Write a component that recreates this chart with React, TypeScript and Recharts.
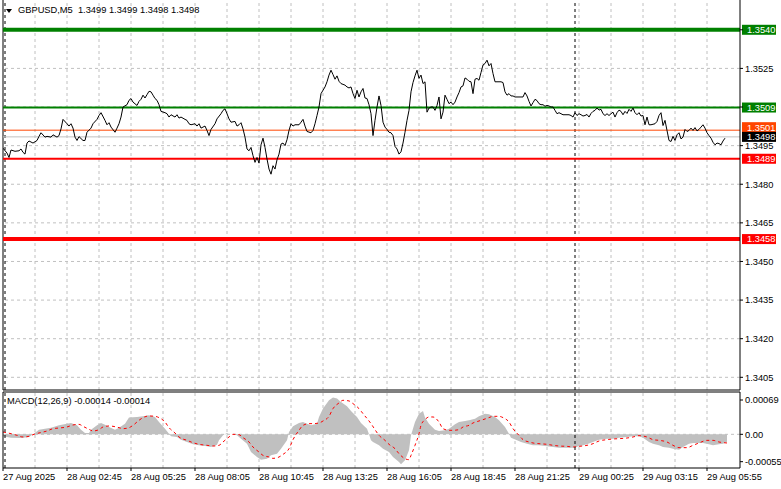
import React from "react";
import {
  ComposedChart,
  Line,
  Area,
  XAxis,
  YAxis,
  ReferenceLine,
} from "recharts";

const FONT = "'Liberation Sans', Arial, sans-serif";
const FONT_SIZE = 9.3;

// x = index of the M5 bar counted from the left edge of the chart
const timeTickBars = [0, 32, 64, 96, 128, 160, 192, 224, 256, 288, 320, 352];
const timeLabels = [
  "27 Aug 2025",
  "28 Aug 02:45",
  "28 Aug 05:25",
  "28 Aug 08:05",
  "28 Aug 10:45",
  "28 Aug 13:25",
  "28 Aug 16:05",
  "28 Aug 18:45",
  "28 Aug 21:25",
  "29 Aug 00:25",
  "29 Aug 03:15",
  "29 Aug 05:55",
];
const gridBars = [16, 32, 48, 64, 80, 96, 112, 128, 144, 160, 176, 192, 208, 224, 240, 256, 272, 288, 304, 320, 336, 352];
const separatorBars = [1, 286];

const priceTicks = [1.3405, 1.342, 1.3435, 1.345, 1.3465, 1.348, 1.3495, 1.351, 1.3525, 1.354];
const coveredPriceTicks = [1.351, 1.354];

// horizontal levels drawn on the chart (labels show them truncated to 4 digits)
const supportResistance = [1.354, 1.35098, 1.3501, 1.34899, 1.34587];
const bidPrice = 1.34984;

const macdTicks = [-0.00055, 0, 0.00069];

// [bar, close]
const closes: [number, number][] = [
  [0, 1.3494], [2, 1.34921], [3, 1.34904], [4, 1.34933], [6, 1.34928], [8, 1.3493], [9, 1.34937],
  [10, 1.34924], [11, 1.34917], [12, 1.3496], [13, 1.34968], [15, 1.3496], [17, 1.3497], [18, 1.34986],
  [19, 1.35], [21, 1.34983], [22, 1.34986], [24, 1.34983], [25, 1.34992], [27, 1.34983], [28, 1.34989],
  [29, 1.35015], [30, 1.35052], [32, 1.35035], [33, 1.35026], [34, 1.35035], [35, 1.35018], [36, 1.34983],
  [37, 1.3497], [38, 1.34985], [40, 1.3497], [41, 1.3497], [42, 1.35002], [44, 1.35018], [45, 1.35035],
  [47, 1.35052], [48, 1.35067], [49, 1.35078], [51, 1.35048], [52, 1.35031], [53, 1.35039], [54, 1.35022],
  [56, 1.35002], [57, 1.35018], [58, 1.35035], [59, 1.35061], [60, 1.351], [62, 1.35109], [63, 1.35126],
  [64, 1.35133], [65, 1.35119], [67, 1.35106], [68, 1.35122], [69, 1.3513], [70, 1.35146], [71, 1.35135],
  [72, 1.35148], [73, 1.35161], [74, 1.35159], [75, 1.35146], [76, 1.35133], [77, 1.35126], [78, 1.35109],
  [79, 1.35083], [81, 1.35078], [82, 1.35074], [83, 1.35061], [84, 1.3507], [86, 1.35061], [87, 1.3507],
  [88, 1.35057], [89, 1.35061], [91, 1.35052], [92, 1.35048], [93, 1.35035], [94, 1.35031], [96, 1.35035],
  [97, 1.35026], [98, 1.35035], [99, 1.35018], [101, 1.35026], [102, 1.35009], [103, 1.34989], [104, 1.35013],
  [106, 1.35035], [107, 1.35054], [109, 1.35074], [110, 1.35087], [111, 1.35093], [112, 1.35074], [113, 1.35054],
  [114, 1.35041], [116, 1.35044], [117, 1.35026], [118, 1.35031], [119, 1.35039], [120, 1.35015], [121, 1.34983],
  [122, 1.34937], [123, 1.3493], [124, 1.34943], [125, 1.34911], [126, 1.34885], [127, 1.34904], [128, 1.34882],
  [129, 1.34953], [130, 1.34979], [131, 1.34943], [132, 1.34898], [133, 1.34859], [134, 1.34839], [135, 1.34872],
  [136, 1.34859], [137, 1.34895], [138, 1.34917], [139, 1.34956], [140, 1.3496], [141, 1.3495], [142, 1.34973],
  [143, 1.35009], [144, 1.35035], [145, 1.35026], [146, 1.35031], [148, 1.35031], [149, 1.35041], [150, 1.35052],
  [151, 1.35026], [152, 1.35005], [154, 1.35], [155, 1.35009], [156, 1.35035], [157, 1.35067], [158, 1.351],
  [159, 1.35152], [161, 1.35178], [162, 1.35198], [163, 1.35224], [164, 1.35243], [165, 1.35226], [166, 1.35208],
  [167, 1.35221], [168, 1.352], [169, 1.35191], [171, 1.35185], [172, 1.35178], [173, 1.35174], [174, 1.35178],
  [175, 1.35152], [176, 1.35133], [177, 1.35165], [178, 1.35139], [179, 1.35159], [180, 1.35172], [181, 1.35135],
  [182, 1.35133], [183, 1.35109], [184, 1.35074], [185, 1.34989], [186, 1.35048], [187, 1.351], [188, 1.35143],
  [189, 1.35106], [190, 1.35041], [191, 1.35022], [192, 1.35013], [193, 1.35002], [194, 1.35], [195, 1.34989],
  [196, 1.34947], [197, 1.34937], [198, 1.34917], [199, 1.34926], [200, 1.3496], [201, 1.35002], [202, 1.35048],
  [203, 1.35087], [204, 1.35159], [205, 1.35195], [206, 1.35221], [207, 1.35243], [208, 1.35211], [209, 1.35224],
  [210, 1.35191], [211, 1.35198], [212, 1.3508], [213, 1.35096], [214, 1.351], [215, 1.351], [216, 1.35087],
  [217, 1.35106], [218, 1.35139], [219, 1.35054], [220, 1.3508], [221, 1.35146], [222, 1.3513], [223, 1.35113],
  [224, 1.35119], [225, 1.35109], [226, 1.35119], [227, 1.35139], [228, 1.35156], [229, 1.35178], [230, 1.35182],
  [231, 1.35213], [232, 1.35208], [233, 1.352], [234, 1.35198], [235, 1.35152], [236, 1.35208], [237, 1.35211],
  [238, 1.35204], [239, 1.35234], [240, 1.35263], [241, 1.35269], [242, 1.35282], [243, 1.3526], [244, 1.35269],
  [245, 1.3523], [246, 1.35198], [247, 1.35198], [248, 1.35198], [249, 1.35198], [250, 1.35195], [251, 1.35159],
  [252, 1.35146], [253, 1.35152], [254, 1.35143], [255, 1.35143], [256, 1.35139], [257, 1.35139], [258, 1.35139],
  [259, 1.35139], [260, 1.35139], [261, 1.35156], [262, 1.35143], [263, 1.35122], [264, 1.35104], [265, 1.35117],
  [266, 1.3513], [267, 1.35125], [268, 1.35113], [269, 1.35109], [270, 1.35109], [271, 1.35103], [272, 1.35106],
  [273, 1.35104], [274, 1.351], [275, 1.351], [276, 1.35087], [277, 1.35074], [278, 1.35078], [279, 1.35074],
  [280, 1.3507], [281, 1.3507], [282, 1.3507], [283, 1.3507], [284, 1.35067], [285, 1.35061], [286, 1.35078],
  [287, 1.35067], [288, 1.35074], [289, 1.3507], [290, 1.35065], [291, 1.35067], [292, 1.35071], [293, 1.35061],
  [294, 1.35075], [295, 1.35083], [296, 1.35087], [297, 1.35096], [298, 1.35088], [299, 1.35091], [300, 1.35074],
  [301, 1.35067], [302, 1.35074], [303, 1.35067], [304, 1.35074], [305, 1.3508], [306, 1.35061], [307, 1.35078],
  [308, 1.35088], [309, 1.35083], [310, 1.3507], [311, 1.35083], [312, 1.35075], [313, 1.35091], [314, 1.35083],
  [315, 1.35096], [316, 1.35078], [317, 1.3507], [318, 1.35078], [319, 1.35065], [320, 1.35067], [321, 1.35031],
  [322, 1.35061], [323, 1.35031], [324, 1.35031], [325, 1.35033], [326, 1.35035], [327, 1.35044], [328, 1.35067],
  [329, 1.35078], [330, 1.35028], [331, 1.35048], [332, 1.35009], [333, 1.3497], [334, 1.34966], [335, 1.34986],
  [336, 1.3497], [337, 1.34992], [338, 1.35], [339, 1.34976], [340, 1.34983], [341, 1.35013], [342, 1.35005],
  [343, 1.35009], [344, 1.35018], [345, 1.35009], [346, 1.3502], [347, 1.35007], [348, 1.35013], [349, 1.35022],
  [350, 1.35031], [351, 1.35018], [352, 1.35], [353, 1.34989], [354, 1.34979], [355, 1.34963], [356, 1.34953],
  [357, 1.3496], [358, 1.34958], [359, 1.34953], [360, 1.34968], [361, 1.34979],
];

// [bar, MACD main] (histogram)
const macdMain: [number, number][] = [
  [0, -4.0e-5], [4, -6.7e-5], [9, -7.4e-5], [13, -5.4e-5], [15, 0], [18, 9.4e-5], [24, 13.4e-5],
  [28, 18.1e-5], [32, 21.5e-5], [34, 22.8e-5], [37, 18.1e-5], [39, 9.4e-5], [41, 2.7e-5], [43, 2.7e-5],
  [44, 9.4e-5], [47, 18.1e-5], [49, 22.8e-5], [51, 19.5e-5], [53, 14.8e-5], [56, 9.4e-5], [58, 13.4e-5],
  [61, 21.5e-5], [63, 33.6e-5], [67, 34.9e-5], [70, 36.2e-5], [73, 38.2e-5], [76, 34.9e-5], [78, 24.8e-5],
  [81, 11.4e-5], [83, 1.3e-5], [84, -4.0e-5], [87, -5.4e-5], [89, -10.7e-5], [92, -15.4e-5], [95, -20.1e-5],
  [98, -22.1e-5], [102, -24.2e-5], [104, -25.5e-5], [107, -20.8e-5], [108, -12.1e-5], [110, -2.0e-5],
  [112, 2.7e-5], [113, 0], [115, 0], [117, -2.0e-5], [119, -8.7e-5], [122, -18.8e-5], [124, -35.6e-5],
  [127, -45.6e-5], [129, -51.0e-5], [132, -49.0e-5], [134, -42.3e-5], [137, -38.9e-5], [139, -28.9e-5],
  [142, -12.1e-5], [143, 4.7e-5], [145, 16.1e-5], [148, 22.8e-5], [150, 24.8e-5], [152, 21.5e-5],
  [154, 18.1e-5], [157, 21.5e-5], [158, 34.9e-5], [160, 51.7e-5], [163, 68.4e-5], [165, 73.8e-5],
  [167, 71.8e-5], [169, 65.1e-5], [172, 56.4e-5], [174, 47.0e-5], [177, 34.9e-5], [179, 22.8e-5],
  [182, 11.4e-5], [183, 0], [184, -12.1e-5], [185, -15.4e-5], [188, -22.1e-5], [190, -28.9e-5],
  [193, -35.6e-5], [195, -45.6e-5], [198, -55.7e-5], [199, -60.4e-5], [201, -52.3e-5], [203, -32.2e-5],
  [204, -2.0e-5], [206, 24.8e-5], [208, 41.6e-5], [210, 47.0e-5], [211, 33.6e-5], [213, 21.5e-5],
  [216, 9.4e-5], [218, 6.7e-5], [221, 8.1e-5], [223, 11.4e-5], [226, 20.1e-5], [228, 24.8e-5],
  [231, 26.8e-5], [233, 28.2e-5], [236, 31.5e-5], [238, 36.2e-5], [241, 41.6e-5], [243, 40.3e-5],
  [246, 34.9e-5], [248, 28.2e-5], [251, 14.8e-5], [253, 1.3e-5], [254, -6.7e-5], [257, -12.1e-5],
  [259, -15.4e-5], [262, -18.8e-5], [265, -22.1e-5], [268, -22.1e-5], [272, -24.2e-5], [275, -25.5e-5],
  [278, -26.8e-5], [282, -26.8e-5], [285, -26.8e-5], [288, -24.2e-5], [292, -20.1e-5], [295, -15.4e-5],
  [298, -10.7e-5], [302, -8.7e-5], [305, -8.7e-5], [308, -6.7e-5], [312, -5.4e-5], [315, -4.0e-5],
  [318, -4.0e-5], [320, -6.7e-5], [323, -15.4e-5], [325, -18.8e-5], [328, -22.1e-5], [330, -25.5e-5],
  [333, -26.8e-5], [335, -28.9e-5], [338, -30.9e-5], [340, -25.5e-5], [343, -18.8e-5], [345, -17.4e-5],
  [348, -17.4e-5], [350, -17.4e-5], [353, -20.1e-5], [355, -22.1e-5], [358, -20.1e-5], [360, -18.8e-5],
  [362, -15.0e-5],
];

// [bar, MACD signal]
const macdSignal: [number, number][] = [
  [0, 4.7e-5], [4, 1.3e-5], [7, -2.0e-5], [10, -5.4e-5], [13, -4.0e-5], [15, -0.7e-5], [18, 2.7e-5],
  [22, 6.7e-5], [25, 11.4e-5], [28, 12.7e-5], [32, 14.8e-5], [35, 18.8e-5], [38, 20.1e-5], [40, 16.1e-5],
  [43, 10.1e-5], [45, 6.7e-5], [48, 9.4e-5], [50, 14.8e-5], [53, 16.8e-5], [55, 16.1e-5], [58, 13.4e-5],
  [60, 11.4e-5], [63, 13.4e-5], [65, 18.1e-5], [68, 28.2e-5], [70, 33.6e-5], [73, 36.9e-5], [76, 36.2e-5],
  [78, 33.6e-5], [81, 24.8e-5], [83, 13.4e-5], [86, 2.7e-5], [88, -5.4e-5], [92, -12.1e-5], [95, -16.8e-5],
  [98, -20.1e-5], [102, -22.1e-5], [105, -23.5e-5], [108, -22.1e-5], [110, -15.4e-5], [113, -5.4e-5],
  [115, 0], [118, -0.7e-5], [120, -6.7e-5], [123, -15.4e-5], [125, -25.5e-5], [128, -35.6e-5],
  [130, -42.3e-5], [133, -45.6e-5], [135, -48.3e-5], [138, -45.6e-5], [140, -40.3e-5], [143, -28.9e-5],
  [145, -10.7e-5], [148, 8.1e-5], [150, 18.1e-5], [153, 21.5e-5], [155, 21.5e-5], [158, 22.8e-5],
  [160, 26.8e-5], [163, 36.2e-5], [165, 51.7e-5], [168, 63.1e-5], [170, 68.4e-5], [173, 67.1e-5],
  [175, 61.7e-5], [178, 51.7e-5], [180, 41.6e-5], [184, 21.5e-5], [186, 9.4e-5], [188, -2.0e-5],
  [191, -12.1e-5], [193, -20.1e-5], [196, -28.9e-5], [198, -38.9e-5], [201, -49.0e-5], [203, -51.0e-5],
  [204, -42.3e-5], [206, -22.1e-5], [208, 1.3e-5], [209, 18.1e-5], [211, 29.5e-5], [213, 34.9e-5],
  [215, 34.9e-5], [218, 24.8e-5], [220, 11.4e-5], [223, 8.1e-5], [225, 8.1e-5], [228, 9.4e-5],
  [230, 14.8e-5], [233, 18.1e-5], [235, 22.8e-5], [238, 26.8e-5], [240, 29.5e-5], [243, 33.6e-5],
  [245, 36.2e-5], [248, 36.2e-5], [250, 33.6e-5], [253, 24.8e-5], [255, 11.4e-5], [258, -2.0e-5],
  [260, -10.7e-5], [263, -15.4e-5], [265, -17.4e-5], [268, -18.8e-5], [272, -20.1e-5], [275, -22.1e-5],
  [278, -23.5e-5], [282, -24.2e-5], [285, -25.5e-5], [288, -24.2e-5], [292, -22.1e-5], [295, -18.8e-5],
  [298, -13.4e-5], [302, -10.7e-5], [305, -9.4e-5], [308, -8.7e-5], [312, -7.4e-5], [315, -5.4e-5],
  [318, -2.7e-5], [322, -5.4e-5], [325, -10.7e-5], [328, -12.1e-5], [332, -15.4e-5], [335, -22.1e-5],
  [338, -26.8e-5], [342, -26.8e-5], [345, -22.1e-5], [348, -17.4e-5], [352, -12.1e-5], [355, -12.1e-5],
  [358, -15.4e-5], [362, -17.4e-5],
];

const BAR_DOMAIN: [number, number] = [0, 368.5];
const PRICE_DOMAIN: [number, number] = [1.340007, 1.355157];
const MACD_DOMAIN: [number, number] = [-0.000677, 0.000851];

const GRID = "#c0c0c0";
const LEVEL_STYLE = [
  { color: "#008000", width: 4, shift: 0 },
  { color: "#008000", width: 2, shift: 0 },
  { color: "#ff4500", width: 1, shift: -3 },
  { color: "#ff0000", width: 2, shift: 0 },
  { color: "#ff0000", width: 4, shift: 0 },
];

const priceData = closes.map(([bar, close]) => ({ bar, close }));

const macdData = (() => {
  const rows = new Map<number, { bar: number; main?: number; signal?: number }>();
  macdMain.forEach(([bar, v]) => rows.set(bar, { ...(rows.get(bar) ?? { bar }), main: v }));
  macdSignal.forEach(([bar, v]) => rows.set(bar, { ...(rows.get(bar) ?? { bar }), signal: v }));
  return [...rows.values()].sort((a, b) => a.bar - b.bar);
})();

function truncated(v: number) {
  return (Math.floor(v * 10000 + 1e-6) / 10000).toFixed(4);
}

// eslint-disable-next-line @typescript-eslint/no-explicit-any
function PriceTag({ viewBox, text, fill, shift = 0 }: any) {
  if (!viewBox) return null;
  const x = viewBox.x + viewBox.width + 2;
  const y = viewBox.y + shift;
  return (
    <g>
      <rect x={x} y={y - 5} width={34} height={10} fill={fill} />
      <text x={x + 5} y={y} dy="0.36em" fill="#fff" fontSize={FONT_SIZE} fontFamily={FONT}>
        {text}
      </text>
    </g>
  );
}

// eslint-disable-next-line @typescript-eslint/no-explicit-any
function TimeTick({ x, y, payload }: any) {
  const idx = timeTickBars.indexOf(payload.value);
  return (
    <text x={x} y={y} dy="0.71em" textAnchor="start" fill="#000" fontSize={FONT_SIZE} fontFamily={FONT}>
      {timeLabels[idx] ?? ""}
    </text>
  );
}

const axisTick = { fill: "#000", fontSize: FONT_SIZE, fontFamily: FONT };

export default function App() {
  return (
    <div
      style={{
        position: "absolute",
        left: 0,
        top: 0,
        width: 781,
        height: 489,
        background: "#fff",
        fontFamily: FONT,
        fontSize: FONT_SIZE,
        color: "#000",
        overflow: "hidden",
      }}
    >
      <div style={{ position: "absolute", left: 0, top: 0 }}>
        <ComposedChart width={781} height={391} data={priceData} margin={{ top: 0, right: 0, bottom: 1, left: 3 }}>
          <XAxis dataKey="bar" type="number" domain={BAR_DOMAIN} allowDataOverflow hide />
          <YAxis
            orientation="right"
            width={41}
            type="number"
            domain={PRICE_DOMAIN}
            allowDataOverflow
            ticks={priceTicks}
            interval={0}
            tickFormatter={(v: number) => (coveredPriceTicks.includes(v) ? "" : v.toFixed(4))}
            tick={axisTick}
            tickSize={3}
            tickMargin={2}
            axisLine={{ stroke: "#000" }}
            tickLine={{ stroke: "#000" }}
          />
          {priceTicks.map((p) => (
            <ReferenceLine key={`h${p}`} y={p} stroke={GRID} strokeDasharray="3 3" />
          ))}
          {gridBars.map((b) => (
            <ReferenceLine key={`v${b}`} x={b} stroke={GRID} strokeDasharray="3 3" />
          ))}
          {separatorBars.map((b) => (
            <ReferenceLine key={`s${b}`} x={b} stroke="#000" strokeDasharray="3 3" />
          ))}
          <ReferenceLine x={0} stroke="#000" />
          <ReferenceLine y={PRICE_DOMAIN[0]} stroke="#000" />
          {supportResistance.map((p, i) => (
            <ReferenceLine
              key={`l${p}`}
              y={p}
              stroke={LEVEL_STYLE[i].color}
              strokeWidth={LEVEL_STYLE[i].width}
              label={<PriceTag text={truncated(p)} fill={LEVEL_STYLE[i].color} shift={LEVEL_STYLE[i].shift} />}
            />
          ))}
          <ReferenceLine
            y={bidPrice}
            stroke={GRID}
            label={<PriceTag text={truncated(bidPrice)} fill="#000" />}
          />
          <Line
            dataKey="close"
            type="linear"
            stroke="#000"
            strokeWidth={1}
            dot={false}
            isAnimationActive={false}
          />
        </ComposedChart>
      </div>

      <div style={{ position: "absolute", left: 0, top: 391 }}>
        <ComposedChart width={781} height={98} data={macdData} margin={{ top: 1, right: 0, bottom: 0, left: 3 }}>
          <XAxis
            dataKey="bar"
            type="number"
            domain={BAR_DOMAIN}
            allowDataOverflow
            ticks={timeTickBars}
            interval={0}
            height={21}
            tick={<TimeTick />}
            tickSize={3}
            tickMargin={2}
            axisLine={{ stroke: "#000" }}
            tickLine={{ stroke: "#000" }}
          />
          <YAxis
            orientation="right"
            width={41}
            type="number"
            domain={MACD_DOMAIN}
            allowDataOverflow
            ticks={macdTicks}
            interval={0}
            tickFormatter={(v: number) => (v === 0 ? "0.00" : v.toFixed(5))}
            tick={axisTick}
            tickSize={3}
            tickMargin={2}
            axisLine={{ stroke: "#000" }}
            tickLine={{ stroke: "#000" }}
          />
          <ReferenceLine y={0} stroke={GRID} strokeDasharray="3 3" />
          {gridBars.map((b) => (
            <ReferenceLine key={`mv${b}`} x={b} stroke={GRID} strokeDasharray="3 3" />
          ))}
          <Area
            dataKey="main"
            type="linear"
            baseValue={0}
            fill="#c0c0c0"
            fillOpacity={1}
            stroke="none"
            connectNulls
            isAnimationActive={false}
          />
          <Line
            dataKey="signal"
            type="monotone"
            stroke="#ff0000"
            strokeWidth={1}
            strokeDasharray="3 3"
            dot={false}
            connectNulls
            isAnimationActive={false}
          />
          {separatorBars.map((b) => (
            <ReferenceLine key={`ms${b}`} x={b} stroke="#000" strokeDasharray="3 3" />
          ))}
          <ReferenceLine x={0} stroke="#000" />
          <ReferenceLine y={MACD_DOMAIN[1]} stroke="#000" />
        </ComposedChart>
      </div>

      <div
        style={{
          position: "absolute",
          left: 6,
          top: 9,
          width: 0,
          height: 0,
          borderLeft: "3px solid transparent",
          borderRight: "3px solid transparent",
          borderTop: "4px solid #000",
        }}
      />
      <div style={{ position: "absolute", left: 18, top: 5, lineHeight: "11px", whiteSpace: "pre" }}>
        {"GBPUSD,M5  1.3499 1.3499 1.3498 1.3498"}
      </div>
      <div style={{ position: "absolute", left: 7, top: 396, lineHeight: "11px", whiteSpace: "pre" }}>
        {"MACD(12,26,9) -0.00014 -0.00014"}
      </div>
    </div>
  );
}
